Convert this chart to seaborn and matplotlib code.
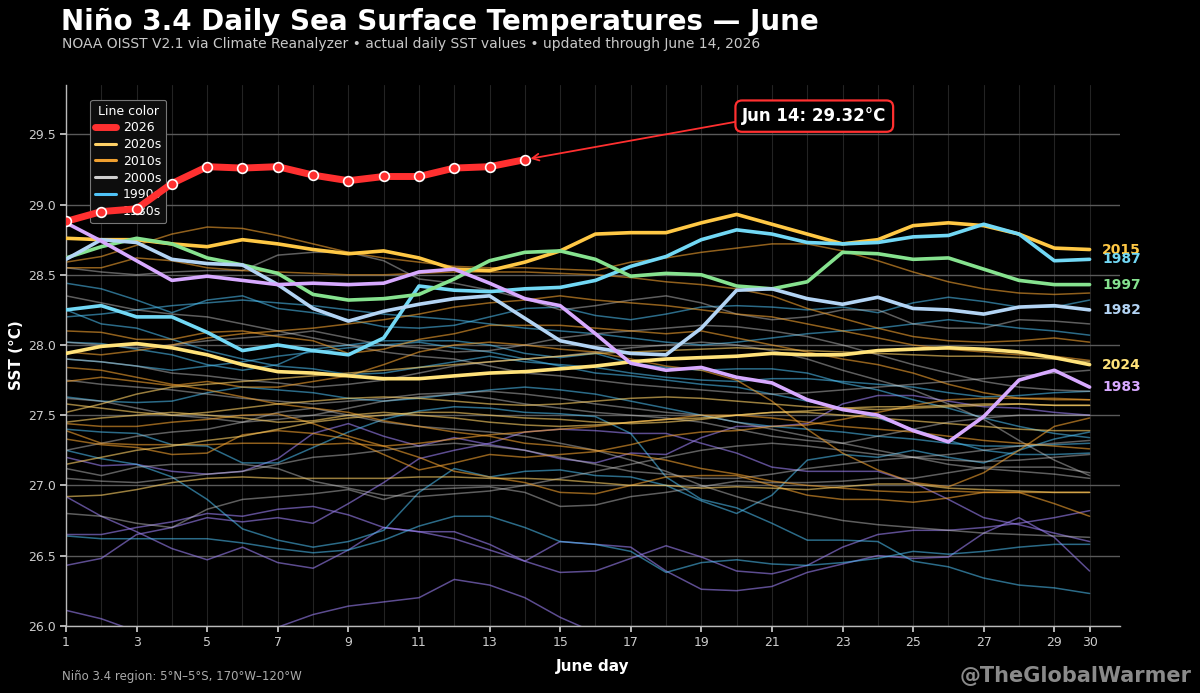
import numpy as np
import pandas as pd
import seaborn as sns
import matplotlib.pyplot as plt
from matplotlib.lines import Line2D

# ---- данные (оценка по картинке) ----
days = list(range(1, 31))

sst_2026 = [28.88, 28.95, 28.97, 29.15, 29.27, 29.26, 29.27, 29.21, 29.17, 29.20,
            29.20, 29.26, 29.27, 29.32]

sst_2015 = [28.76, 28.75, 28.75, 28.72, 28.70, 28.75, 28.72, 28.68, 28.65, 28.67,
            28.62, 28.54, 28.53, 28.59, 28.67, 28.79, 28.80, 28.80, 28.87, 28.93,
            28.86, 28.79, 28.72, 28.75, 28.85, 28.87, 28.85, 28.79, 28.69, 28.68]
sst_1987 = [28.25, 28.28, 28.20, 28.20, 28.09, 27.96, 28.00, 27.96, 27.93, 28.05,
            28.42, 28.39, 28.38, 28.40, 28.41, 28.46, 28.56, 28.63, 28.75, 28.82,
            28.79, 28.73, 28.72, 28.73, 28.77, 28.78, 28.86, 28.79, 28.60, 28.61]
sst_1997 = [28.62, 28.70, 28.76, 28.72, 28.62, 28.57, 28.51, 28.36, 28.32, 28.33,
            28.36, 28.47, 28.60, 28.66, 28.67, 28.61, 28.49, 28.51, 28.50, 28.42,
            28.40, 28.45, 28.66, 28.65, 28.61, 28.62, 28.54, 28.46, 28.43, 28.43]
sst_1982 = [28.61, 28.75, 28.73, 28.61, 28.58, 28.57, 28.43, 28.26, 28.17, 28.24,
            28.29, 28.33, 28.35, 28.19, 28.03, 27.98, 27.94, 27.93, 28.12, 28.39,
            28.40, 28.33, 28.29, 28.34, 28.26, 28.25, 28.22, 28.27, 28.28, 28.25]
sst_2024 = [27.94, 27.99, 28.01, 27.98, 27.93, 27.86, 27.81, 27.80, 27.78, 27.76,
            27.76, 27.78, 27.80, 27.81, 27.83, 27.85, 27.88, 27.90, 27.91, 27.92,
            27.94, 27.93, 27.93, 27.96, 27.97, 27.98, 27.97, 27.95, 27.91, 27.86]
sst_1983 = [28.87, 28.74, 28.60, 28.46, 28.49, 28.46, 28.43, 28.44, 28.43, 28.44,
            28.52, 28.54, 28.44, 28.33, 28.28, 28.08, 27.87, 27.82, 27.84, 27.77,
            27.73, 27.61, 27.54, 27.50, 27.39, 27.31, 27.49, 27.75, 27.82, 27.70]

# фоновые годы, по десятилетиям
bg_1980s = {
    1984: [26.11, 26.05, 25.96, 25.92, 25.90, 25.93, 25.99, 26.08, 26.14, 26.17,
           26.20, 26.33, 26.29, 26.20, 26.06, 25.95, 25.90, 25.88, 25.87, 25.86,
           25.85, 25.85, 25.84, 25.84, 25.83, 25.83, 25.82, 25.82, 25.81, 25.80],
    1985: [26.92, 26.78, 26.67, 26.55, 26.47, 26.56, 26.45, 26.41, 26.54, 26.70,
           26.67, 26.62, 26.54, 26.46, 26.60, 26.58, 26.56, 26.39, 26.26, 26.25,
           26.28, 26.38, 26.44, 26.50, 26.48, 26.49, 26.66, 26.77, 26.63, 26.39],
    1986: [26.65, 26.65, 26.70, 26.74, 26.80, 26.78, 26.83, 26.85, 26.79, 26.70,
           26.67, 26.67, 26.58, 26.46, 26.38, 26.39, 26.48, 26.57, 26.49, 26.39,
           26.37, 26.43, 26.56, 26.65, 26.68, 26.68, 26.70, 26.73, 26.77, 26.82],
    1988: [26.43, 26.48, 26.65, 26.70, 26.77, 26.74, 26.77, 26.73, 26.87, 27.02,
           27.19, 27.25, 27.30, 27.38, 27.40, 27.39, 27.37, 27.37, 27.30, 27.23,
           27.13, 27.10, 27.10, 27.10, 27.02, 26.90, 26.77, 26.72, 26.66, 26.60],
    1989: [27.20, 27.14, 27.15, 27.10, 27.08, 27.10, 27.19, 27.37, 27.44, 27.35,
           27.28, 27.34, 27.29, 27.25, 27.19, 27.16, 27.23, 27.22, 27.34, 27.42,
           27.42, 27.44, 27.58, 27.64, 27.64, 27.60, 27.56, 27.55, 27.52, 27.50],
}
bg_1990s = {
    1990: [26.64, 26.62, 26.62, 26.62, 26.62, 26.59, 26.55, 26.52, 26.54, 26.61,
           26.71, 26.78, 26.78, 26.70, 26.60, 26.58, 26.53, 26.38, 26.45, 26.47,
           26.44, 26.43, 26.45, 26.48, 26.53, 26.51, 26.53, 26.56, 26.58, 26.58],
    1991: [27.25, 27.19, 27.15, 27.06, 26.90, 26.69, 26.61, 26.56, 26.60, 26.68,
           26.95, 27.12, 27.06, 27.10, 27.11, 27.07, 27.06, 27.00, 26.89, 26.80,
           26.93, 27.18, 27.22, 27.20, 27.25, 27.20, 27.16, 27.25, 27.33, 27.38],
    1992: [27.40, 27.38, 27.37, 27.29, 27.28, 27.16, 27.16, 27.27, 27.38, 27.47,
           27.53, 27.56, 27.55, 27.52, 27.51, 27.49, 27.37, 27.06, 26.90, 26.84,
           26.73, 26.61, 26.61, 26.60, 26.46, 26.42, 26.34, 26.29, 26.27, 26.23],
    1993: [27.63, 27.60, 27.59, 27.60, 27.66, 27.70, 27.68, 27.66, 27.62, 27.60,
           27.62, 27.65, 27.68, 27.70, 27.68, 27.65, 27.60, 27.55, 27.50, 27.45,
           27.42, 27.40, 27.38, 27.35, 27.33, 27.30, 27.28, 27.28, 27.29, 27.30],
    1994: [28.02, 28.01, 27.97, 27.93, 27.86, 27.82, 27.86, 27.97, 28.00, 28.03,
           28.03, 28.03, 28.00, 27.94, 27.91, 27.94, 27.87, 27.84, 27.82, 27.83,
           27.83, 27.80, 27.73, 27.68, 27.61, 27.55, 27.48, 27.42, 27.37, 27.34],
    1995: [28.25, 28.15, 28.12, 28.04, 27.96, 27.90, 27.85, 27.83, 27.79, 27.80,
           27.84, 27.88, 27.92, 27.88, 27.86, 27.84, 27.80, 27.77, 27.75, 27.74,
           27.76, 27.76, 27.74, 27.72, 27.70, 27.66, 27.63, 27.64, 27.66, 27.67],
    1996: [28.44, 28.40, 28.32, 28.23, 28.32, 28.35, 28.26, 28.23, 28.18, 28.13,
           28.12, 28.14, 28.20, 28.26, 28.27, 28.21, 28.18, 28.22, 28.27, 28.28,
           28.27, 28.25, 28.27, 28.23, 28.30, 28.34, 28.31, 28.27, 28.27, 28.32],
    1998: [27.90, 27.88, 27.85, 27.82, 27.85, 27.88, 27.92, 27.95, 27.98, 28.00,
           28.02, 27.98, 27.95, 27.90, 27.85, 27.80, 27.78, 27.75, 27.72, 27.70,
           27.65, 27.60, 27.55, 27.48, 27.40, 27.32, 27.25, 27.22, 27.22, 27.23],
    1999: [28.20, 28.22, 28.25, 28.28, 28.30, 28.32, 28.30, 28.28, 28.25, 28.22,
           28.20, 28.18, 28.15, 28.12, 28.10, 28.08, 28.05, 28.02, 28.00, 28.02,
           28.05, 28.08, 28.10, 28.12, 28.15, 28.18, 28.15, 28.12, 28.10, 28.07],
}
bg_2000s = {
    2000: [28.02, 28.00, 27.98, 28.00, 28.03, 28.05, 28.07, 28.10, 28.05, 28.00,
           27.98, 27.95, 27.96, 28.00, 28.05, 28.08, 28.10, 28.12, 28.14, 28.13,
           28.10, 28.06, 28.00, 27.93, 27.86, 27.80, 27.74, 27.70, 27.68, 27.67],
    2001: [26.80, 26.78, 26.73, 26.70, 26.83, 26.90, 26.92, 26.94, 26.97, 26.90,
           26.97, 26.98, 26.99, 26.95, 26.85, 26.86, 26.92, 26.95, 26.99, 27.03,
           27.02, 27.02, 27.03, 27.05, 27.05, 27.09, 27.13, 27.13, 27.13, 27.09],
    2002: [27.12, 27.07, 27.13, 27.15, 27.15, 27.15, 27.12, 27.03, 26.98, 26.93,
           26.92, 26.94, 26.96, 27.00, 27.05, 27.10, 27.15, 27.20, 27.25, 27.28,
           27.30, 27.28, 27.25, 27.22, 27.20, 27.18, 27.17, 27.18, 27.20, 27.22],
    2003: [28.55, 28.52, 28.50, 28.52, 28.53, 28.53, 28.64, 28.66, 28.66, 28.60,
           28.47, 28.44, 28.39, 28.33, 28.25, 28.28, 28.32, 28.35, 28.30, 28.22,
           28.18, 28.20, 28.25, 28.25, 28.15, 28.12, 28.12, 28.18, 28.17, 28.15],
    2004: [27.62, 27.60, 27.55, 27.50, 27.48, 27.45, 27.47, 27.50, 27.55, 27.60,
           27.63, 27.65, 27.62, 27.58, 27.55, 27.52, 27.50, 27.48, 27.45, 27.40,
           27.35, 27.32, 27.30, 27.35, 27.40, 27.45, 27.48, 27.50, 27.50, 27.50],
    2005: [27.25, 27.30, 27.35, 27.38, 27.40, 27.45, 27.52, 27.55, 27.50, 27.45,
           27.42, 27.40, 27.38, 27.35, 27.30, 27.25, 27.18, 27.10, 27.00, 26.92,
           26.85, 26.80, 26.75, 26.72, 26.70, 26.68, 26.66, 26.65, 26.64, 26.63],
    2006: [27.90, 27.88, 27.85, 27.80, 27.78, 27.75, 27.73, 27.70, 27.72, 27.75,
           27.80, 27.85, 27.88, 27.90, 27.92, 27.95, 27.98, 28.00, 28.02, 28.00,
           27.96, 27.90, 27.82, 27.75, 27.68, 27.58, 27.47, 27.32, 27.18, 27.07],
    2007: [28.35, 28.30, 28.25, 28.22, 28.20, 28.15, 28.10, 28.05, 28.00, 27.95,
           27.92, 27.90, 27.85, 27.80, 27.78, 27.75, 27.72, 27.70, 27.68, 27.66,
           27.65, 27.66, 27.68, 27.70, 27.72, 27.74, 27.76, 27.78, 27.80, 27.82],
    2008: [27.05, 27.03, 27.02, 27.05, 27.08, 27.10, 27.15, 27.20, 27.22, 27.25,
           27.28, 27.30, 27.28, 27.25, 27.20, 27.15, 27.10, 27.08, 27.05, 27.05,
           27.08, 27.12, 27.15, 27.18, 27.20, 27.22, 27.25, 27.28, 27.30, 27.32],
    2009: [27.75, 27.72, 27.70, 27.68, 27.65, 27.62, 27.60, 27.58, 27.60, 27.62,
           27.65, 27.66, 27.67, 27.65, 27.62, 27.58, 27.55, 27.52, 27.50, 27.45,
           27.40, 27.35, 27.30, 27.25, 27.20, 27.15, 27.12, 27.10, 27.08, 27.05],
}
bg_2010s = {
    2010: [28.59, 28.63, 28.71, 28.79, 28.84, 28.83, 28.78, 28.72, 28.66, 28.62,
           28.59, 28.56, 28.55, 28.55, 28.54, 28.53, 28.59, 28.62, 28.66, 28.69,
           28.72, 28.72, 28.67, 28.60, 28.52, 28.45, 28.40, 28.37, 28.36, 28.37],
    2011: [28.55, 28.55, 28.62, 28.60, 28.55, 28.53, 28.52, 28.51, 28.50, 28.50,
           28.51, 28.52, 28.52, 28.52, 28.51, 28.50, 28.48, 28.45, 28.43, 28.40,
           28.35, 28.26, 28.19, 28.12, 28.06, 28.03, 28.02, 28.03, 28.05, 28.02],
    2012: [28.10, 28.09, 28.04, 28.04, 28.09, 28.10, 28.06, 28.03, 27.94, 27.97,
           28.04, 28.08, 28.14, 28.14, 28.14, 28.12, 28.10, 28.08, 28.10, 28.05,
           28.00, 27.95, 27.90, 27.86, 27.80, 27.72, 27.66, 27.62, 27.61, 27.61],
    2013: [27.84, 27.82, 27.77, 27.72, 27.68, 27.63, 27.58, 27.55, 27.52, 27.46,
           27.42, 27.38, 27.35, 27.30, 27.28, 27.25, 27.22, 27.18, 27.12, 27.08,
           27.03, 27.00, 26.98, 26.96, 26.95, 26.96, 26.95, 26.95, 26.95, 26.95],
    2014: [27.74, 27.77, 27.74, 27.71, 27.74, 27.70, 27.70, 27.74, 27.78, 27.86,
           27.95, 28.00, 28.02, 28.00, 27.97, 27.95, 27.90, 27.85, 27.82, 27.75,
           27.60, 27.40, 27.23, 27.11, 27.02, 26.99, 27.09, 27.25, 27.42, 27.48],
    2016: [27.33, 27.29, 27.27, 27.22, 27.23, 27.36, 27.39, 27.37, 27.33, 27.22,
           27.11, 27.16, 27.22, 27.20, 27.22, 27.24, 27.29, 27.35, 27.38, 27.39,
           27.42, 27.43, 27.47, 27.52, 27.57, 27.61, 27.62, 27.62, 27.62, 27.61],
    2017: [27.39, 27.30, 27.29, 27.29, 27.29, 27.30, 27.30, 27.29, 27.30, 27.28,
           27.30, 27.33, 27.36, 27.38, 27.40, 27.42, 27.45, 27.47, 27.50, 27.50,
           27.48, 27.45, 27.42, 27.40, 27.38, 27.35, 27.32, 27.30, 27.28, 27.26],
    2018: [27.44, 27.42, 27.42, 27.45, 27.47, 27.50, 27.51, 27.44, 27.35, 27.28,
           27.20, 27.10, 27.06, 27.02, 26.95, 26.94, 27.00, 27.06, 27.07, 27.07,
           27.00, 26.93, 26.90, 26.90, 26.88, 26.91, 26.95, 26.95, 26.87, 26.78],
    2019: [27.95, 27.93, 27.96, 28.00, 28.05, 28.08, 28.10, 28.12, 28.15, 28.18,
           28.22, 28.27, 28.30, 28.32, 28.35, 28.32, 28.30, 28.28, 28.25, 28.22,
           28.20, 28.15, 28.10, 28.05, 28.00, 27.97, 27.95, 27.93, 27.92, 27.89],
}
bg_2020s = {
    2020: [27.52, 27.58, 27.65, 27.70, 27.72, 27.74, 27.76, 27.78, 27.80, 27.82,
           27.84, 27.86, 27.88, 27.90, 27.92, 27.94, 27.95, 27.96, 27.97, 27.98,
           27.97, 27.96, 27.95, 27.94, 27.93, 27.92, 27.92, 27.91, 27.90, 27.88],
    2021: [27.58, 27.55, 27.52, 27.50, 27.52, 27.55, 27.58, 27.60, 27.62, 27.63,
           27.62, 27.60, 27.58, 27.57, 27.58, 27.60, 27.62, 27.63, 27.62, 27.60,
           27.58, 27.56, 27.55, 27.54, 27.55, 27.56, 27.57, 27.58, 27.57, 27.57],
    2022: [26.92, 26.93, 26.97, 27.02, 27.05, 27.06, 27.05, 27.05, 27.05, 27.05,
           27.06, 27.06, 27.05, 27.05, 27.04, 27.02, 27.00, 27.00, 26.98, 26.99,
           26.98, 26.97, 26.99, 27.01, 27.01, 26.98, 26.97, 26.96, 26.95, 26.95],
    2023: [27.45, 27.48, 27.50, 27.52, 27.50, 27.48, 27.45, 27.46, 27.50, 27.52,
           27.50, 27.48, 27.45, 27.43, 27.42, 27.43, 27.45, 27.47, 27.48, 27.50,
           27.52, 27.52, 27.50, 27.48, 27.46, 27.44, 27.42, 27.40, 27.39, 27.39],
    2025: [27.15, 27.20, 27.25, 27.28, 27.32, 27.35, 27.40, 27.45, 27.48, 27.50,
           27.52, 27.52, 27.50, 27.48, 27.47, 27.45, 27.44, 27.45, 27.47, 27.50,
           27.52, 27.53, 27.55, 27.56, 27.56, 27.57, 27.58, 27.58, 27.57, 27.57],
}

decade_colors = {
    '2020s': '#ffd166',
    '2010s': '#f0a030',
    '2000s': '#cfcfcf',
    '1990s': '#4fc3f7',
    '1980s': '#9a7ff0',
}
decade_alpha = {'2020s': 0.6, '2010s': 0.6, '2000s': 0.45, '1990s': 0.55, '1980s': 0.6}

highlights = [
    (2015, sst_2015, '#ffc845'),
    (1987, sst_1987, '#72d8f5'),
    (1997, sst_1997, '#86e28f'),
    (1982, sst_1982, '#b3d4f4'),
    (2024, sst_2024, '#ffe27a'),
    (1983, sst_1983, '#d7a9ff'),
]

# собираем фон в длинную таблицу
rows = []
for dec, group in [('1980s', bg_1980s), ('1990s', bg_1990s), ('2000s', bg_2000s),
                   ('2010s', bg_2010s), ('2020s', bg_2020s)]:
    for yr, vals in group.items():
        for d, v in zip(days, vals):
            rows.append((yr, dec, d, v))
bg = pd.DataFrame(rows, columns=['year', 'decade', 'day', 'sst'])

sns.set_theme(style='dark')
plt.rcParams['font.family'] = ['DejaVu Sans']

fig = plt.figure(figsize=(12, 6.93), dpi=100, facecolor='black')
ax = fig.add_axes([0.055, 0.097, 0.878, 0.78])
ax.set_facecolor('black')

# фон: по десятилетию, каждый год отдельной линией
for dec, sub in bg.groupby('decade'):
    sns.lineplot(data=sub, x='day', y='sst', units='year', estimator=None,
                 color=decade_colors[dec], linewidth=1.1, alpha=decade_alpha[dec],
                 ax=ax, zorder=2)

for yr, vals, col in highlights:
    sns.lineplot(x=days, y=vals, color=col, linewidth=2.6, ax=ax, zorder=4)
    ax.text(30.35, vals[-1], str(yr), color=col, fontsize=10, fontweight='bold',
            va='center', ha='left', zorder=6)

sns.lineplot(x=days[:len(sst_2026)], y=sst_2026, color='#ff3030', linewidth=5,
             marker='o', markersize=7, markerfacecolor='#ff3030',
             markeredgecolor='white', markeredgewidth=1.2, ax=ax, zorder=7)

# аннотация
ax.annotate('Jun 14: 29.32°C', xy=(14, sst_2026[-1]), xytext=(22.2, 29.63),
            color='white', fontsize=12, fontweight='bold', ha='center', va='center',
            bbox=dict(boxstyle='round,pad=0.4', fc='black', ec='#ff3030', lw=1.6),
            arrowprops=dict(arrowstyle='->', color='#ff3030', lw=1.3,
                            shrinkA=0, shrinkB=4, relpos=(0.0, 0.25)),
            zorder=8)

# оси
ax.set_xlim(1, 30.85)
ax.set_ylim(26.0, 29.85)
ax.set_xticks([1, 3, 5, 7, 9, 11, 13, 15, 17, 19, 21, 23, 25, 27, 29, 30])
ax.set_yticks(np.arange(26.0, 29.51, 0.5))
ax.yaxis.set_major_formatter(plt.FormatStrFormatter('%.1f'))
ax.grid(False)
for d in days:
    ax.axvline(d, color='#232323', lw=0.8, zorder=0)
for yv in np.arange(26.0, 29.51, 0.5):
    ax.axhline(yv, color='#5a5a5a', lw=1.0, zorder=1)
ax.tick_params(axis='both', colors='#cccccc', labelsize=9, length=4,
               bottom=True, left=True)
for s in ['top', 'right']:
    ax.spines[s].set_visible(False)
for s in ['left', 'bottom']:
    ax.spines[s].set_color('#bbbbbb')
    ax.spines[s].set_linewidth(1.0)
ax.set_xlabel('June day', color='white', fontsize=11, fontweight='bold', labelpad=7)
ax.set_ylabel('SST (°C)', color='white', fontsize=11, fontweight='bold', labelpad=3)

# легенда
handles = [Line2D([0], [0], color='#ff3030', lw=5)]
labels = ['2026']
for dec in ['2020s', '2010s', '2000s', '1990s', '1980s']:
    handles.append(Line2D([0], [0], color=decade_colors[dec], lw=2.2))
    labels.append(dec)
leg = ax.legend(handles, labels, title='Line color', loc='upper left',
                bbox_to_anchor=(0.017, 0.985), fontsize=9, title_fontsize=9,
                facecolor='#0d0d0d', edgecolor='#777777', framealpha=1.0,
                labelcolor='white', handlelength=1.7, handletextpad=0.5,
                borderpad=0.4, labelspacing=0.3)
leg.get_title().set_color('white')
leg.get_frame().set_linewidth(0.8)
leg.set_zorder(3)

# заголовки
fig.text(0.051, 0.969, 'Niño 3.4 Daily Sea Surface Temperatures — June', color='white',
         fontsize=20, fontweight='bold', va='center', ha='left')
fig.text(0.052, 0.937, 'NOAA OISST V2.1 via Climate Reanalyzer • actual daily SST values • '
         'updated through June 14, 2026', color='#c8c8c8', fontsize=10, va='center', ha='left')
fig.text(0.052, 0.024, 'Niño 3.4 region: 5°N–5°S, 170°W–120°W', color='#aaaaaa',
         fontsize=8.5, va='center', ha='left')
fig.text(0.993, 0.024, '@TheGlobalWarmer', color='#8a8a8a', fontsize=15,
         fontweight='bold', va='center', ha='right')

fig.savefig('out.png', dpi=100, facecolor='black')
